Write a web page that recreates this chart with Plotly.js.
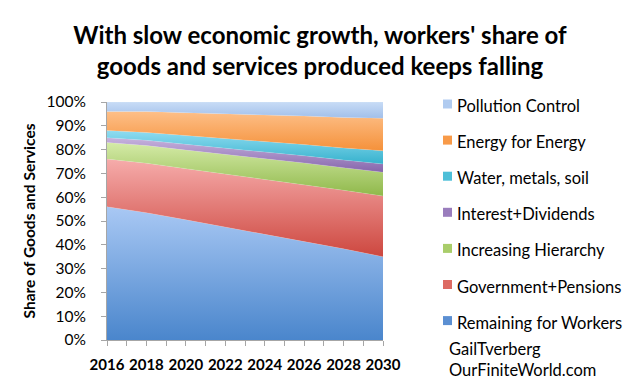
<!DOCTYPE html>
<html><head><meta charset="utf-8">
<script src="https://cdn.plot.ly/plotly-3.0.1.min.js"></script>
<style>html,body{margin:0;padding:0;background:#fff;}#chart{width:640px;height:385px;}</style>
</head><body><div id="chart"></div>
<script>
const years = [2016, 2018, 2020, 2022, 2024, 2026, 2028, 2030];
const workers    = [56, 53.5, 50.5, 47.5, 44.5, 41.5, 38.3, 35];
const government = [20, 20.8, 21.5, 22.3, 23, 23.8, 24.6, 25.5];
const hierarchy  = [7, 7.4, 7.8, 8.3, 8.7, 9.1, 9.5, 10];
const interest   = [2, 2.2, 2.4, 2.6, 2.8, 3.0, 3.2, 3.5];
const water      = [3, 3.3, 3.7, 4.0, 4.4, 4.7, 5.1, 5.5];
const energy     = [8, 8.8, 9.6, 10.4, 11.2, 12.0, 12.8, 13.7];
const pollution  = [4, 4.0, 4.5, 4.9, 5.4, 5.9, 6.5, 6.8];
const xTicks = [2016, 2018, 2020, 2022, 2024, 2026, 2028, 2030];
const yTicks = [0,10,20,30,40,50,60,70,80,90,100];
const yTickText = yTicks.map(v => v + '%');
const seriesNames = ['Remaining for Workers','Government+Pensions','Increasing Hierarchy','Interest+Dividends','Water, metals, soil','Energy for Energy','Pollution Control'];
const seriesValues = [workers, government, hierarchy, interest, water, energy, pollution];

const styles = [
  {c0:'#4a86cc', c1:'#a9c8f4', sw:'#5b8fd2'},
  {c0:'#cd473f', c1:'#f6acab', sw:'#dd6a63'},
  {c0:'#8fb84a', c1:'#d5eba8', sw:'#a9cd6a'},
  {c0:'#8565ab', c1:'#c7b3de', sw:'#9a7dbd'},
  {c0:'#36b2cd', c1:'#90dcf1', sw:'#4dbfd8'},
  {c0:'#f5913a', c1:'#fdbf88', sw:'#f89a48'},
  {c0:'#a1bfea', c1:'#c8dcf6', sw:'#b0cbf0'}
];

const FONT = 'Lato, "Open Sans", sans-serif';
const traces = seriesNames.map((name, i) => ({
  type:'scatter', mode:'lines', x:years, y:seriesValues[i], name:name,
  stackgroup:'one', line:{width:0.5, color:'rgba(255,255,255,0.25)'},
  fillcolor:styles[i].sw,
  fillgradient:{type:'vertical', colorscale:[[0, styles[i].c0],[1, styles[i].c1]]},
  showlegend:false, hoverinfo:'skip'
}));

// custom legend (small square swatches), pixel layout converted to paper coords
const plotL = 107, plotW = 276, plotT = 102, plotH = 238;
const px2x = px => (px - plotL) / plotW;
const py2y = py => (plotT + plotH - py) / plotH;
const shapes = [], annotations = [];
seriesNames.forEach((name, i) => {
  const cy = 104 + 36.1 * (6 - i);
  shapes.push({type:'rect', xref:'paper', yref:'paper', x0:px2x(443), x1:px2x(452), y0:py2y(cy+4.5), y1:py2y(cy-4.5),
               fillcolor:styles[i].sw, line:{width:0}});
  annotations.push({xref:'paper', yref:'paper', x:px2x(455), y:py2y(cy+2), xanchor:'left', yanchor:'middle',
                    showarrow:false, text:name, font:{size:16.5, family:FONT, color:'#000'}});
});
annotations.push({xref:'paper', yref:'paper', x:px2x(447), y:py2y(337), xanchor:'left', yanchor:'top', showarrow:false, align:'left',
                  text:'GailTverberg<br>OurFiniteWorld.com', font:{size:16.5, family:FONT, color:'#000'}});

const layout = {
  width:640, height:385,
  margin:{l:plotL, r:640-plotL-plotW, t:plotT, b:385-plotT-plotH},
  paper_bgcolor:'#fff', plot_bgcolor:'#fff',
  font:{family:FONT, color:'#000', size:14},
  title:{text:"With slow economic growth, workers' share of<br>goods and services produced keeps falling",
         font:{family:FONT, size:24, color:'#000', weight:'bold'},
         x:0.5, xanchor:'center', y:0.885, yanchor:'middle'},
  showlegend:false,
  xaxis:{range:[2016, 2030], tickvals:xTicks, ticktext:xTicks.map(String),
         showgrid:false, zeroline:false, showline:true, linecolor:'#a6a6a6', linewidth:1,
         ticks:'outside', ticklen:5, tickcolor:'#a6a6a6', ticklabelstandoff:6,
         minor:{dtick:1, ticks:'outside', ticklen:5, tickcolor:'#a6a6a6', showgrid:false},
         tickfont:{size:15, family:FONT, weight:'bold'}, fixedrange:true},
  yaxis:{range:[0, 100], tickvals:yTicks, ticktext:yTickText,
         showgrid:false, zeroline:false, showline:true, linecolor:'#a6a6a6', linewidth:1,
         ticks:'outside', ticklen:5, tickcolor:'#a6a6a6', ticklabelstandoff:12,
         tickfont:{size:15.5, family:FONT},
         title:{text:'Share of Goods and Services', font:{size:15.5, family:FONT, weight:'bold'}, standoff:7},
         fixedrange:true},
  shapes:shapes,
  annotations:annotations
};
Plotly.newPlot('chart', traces, layout, {displayModeBar:false, staticPlot:true});
</script></body></html>
